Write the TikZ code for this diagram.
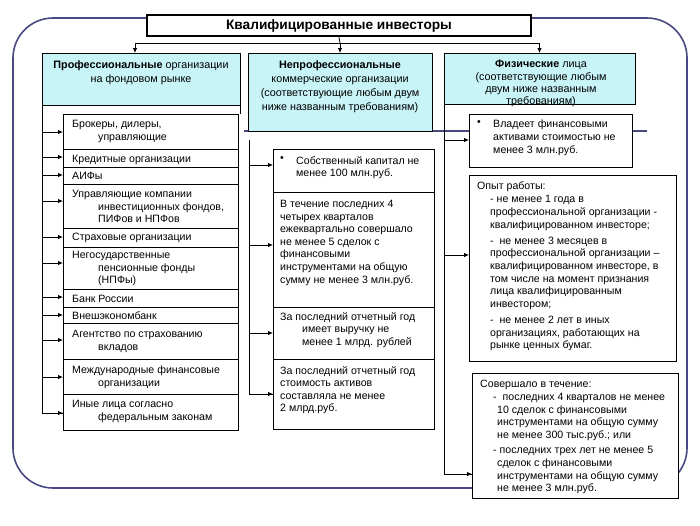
\documentclass[tikz,border=0pt]{standalone}
\usepackage{fontspec}
\setmainfont{Liberation Sans}
\usetikzlibrary{arrows.meta}
\definecolor{hdr}{RGB}{200,244,248}
\definecolor{framec}{RGB}{72,72,130}
\newcommand\myind{\hspace*{26pt}}
\newcommand\rind{\hspace*{13pt}}
\newcommand\sind{\hspace*{17pt}}
\begin{document}
\begin{tikzpicture}[x=1pt,y=-1pt,
  box/.style={draw=black, line width=0.9pt, fill=white, anchor=north west, inner sep=0, outer sep=0},
  hbox/.style={box, fill=hdr},
  txt/.style={anchor=north west, inner sep=0, align=left, font=\fontsize{10.6}{12.6}\selectfont},
  htxt/.style={anchor=north, inner sep=0, align=center, font=\fontsize{10.8}{14.3}\selectfont},
  arr/.style={-{Latex[length=5pt,width=4.5pt]}, line width=0.8pt},
  ln/.style={line width=0.8pt}]
\useasboundingbox[fill=white] (0,0) rectangle (700,525);
% outer frame
\draw[framec, line width=1.6pt, rounded corners=40pt] (13,18) rectangle (687,488);
\draw[framec, line width=1.8pt] (244,131) -- (647,131);
% title
\node[draw, line width=2pt, fill=white, minimum width=384pt, minimum height=21pt, anchor=north west, inner sep=0, font=\bfseries\fontsize{13.7}{15}\selectfont] (title) at (146,14) {Квалифицированные инвесторы};
% headers
\node[hbox, minimum width=198pt, minimum height=52pt] (lh) at (42,53) {};
\node[hbox, minimum width=184pt, minimum height=78pt] (mh) at (248,53) {};
\node[hbox, minimum width=191pt, minimum height=51pt] (rh) at (444,53) {};
\node[htxt] (lht) at (141,60) {\textbf{Профессиональные} организации\\на фондовом рынке};
\node[htxt] (mht) at (340,60) {\textbf{Непрофессиональные}\\коммерческие организации\\(соответствующие любым двум\\ниже названным требованиям)};
\node[htxt, font=\fontsize{10.8}{12.4}\selectfont] (rht) at (541,60) {\textbf{Физические} лица\\(соответствующие любым\\двум ниже названным\\требованиям)};
% top connectors
\coordinate (tj) at (340,43);
\draw[ln] (title.south) -- (tj);
\draw[ln] ([xshift=-6pt]lh.north |- tj) -- (rh.north |- tj);
\draw[arr] ([xshift=-6pt]lh.north |- tj) -- ([xshift=-6pt]lh.north);
\draw[arr] (tj) -- (mh.north);
\draw[arr] (rh.north |- tj) -- (rh.north);
\draw[ln] (lh.south east) -- (240,114);
% left list
\node[box, minimum width=175pt, minimum height=35pt] (l1) at (63,114) {};
\node[box, minimum width=175pt, minimum height=18pt] (l2) at (63,149) {};
\node[box, minimum width=175pt, minimum height=17pt] (l3) at (63,167) {};
\node[box, minimum width=175pt, minimum height=44pt] (l4) at (63,184) {};
\node[box, minimum width=175pt, minimum height=19pt] (l5) at (63,228) {};
\node[box, minimum width=175pt, minimum height=42pt] (l6) at (63,247) {};
\node[box, minimum width=175pt, minimum height=18pt] (l7) at (63,289) {};
\node[box, minimum width=175pt, minimum height=16pt] (l8) at (63,307) {};
\node[box, minimum width=175pt, minimum height=36pt] (l9) at (63,323) {};
\node[box, minimum width=175pt, minimum height=35pt] (l10) at (63,359) {};
\node[box, minimum width=175pt, minimum height=36pt] (l11) at (63,394) {};
\node[txt] (t1) at (72,120) {Брокеры, дилеры,\\\myind управляющие};
\node[txt] (t2) at (72,155) {Кредитные организации};
\node[txt] (t3) at (72,172) {АИФы};
\node[txt] (t4) at (72,190) {Управляющие компании\\\myind инвестиционных фондов,\\\myind ПИФов и НПФов};
\node[txt] (t5) at (72,233) {Страховые организации};
\node[txt] (t6) at (72,251) {Негосударственные\\\myind пенсионные фонды\\\myind (НПФы)};
\node[txt] (t7) at (72,295) {Банк России};
\node[txt] (t8) at (72,312) {Внешэкономбанк};
\node[txt] (t9) at (72,330) {Агентство по страхованию\\\myind вкладов};
\node[txt] (t10) at (72,366) {Международные финансовые\\\myind организации};
\node[txt] (t11) at (72,400) {Иные лица согласно\\\myind федеральным законам};
\draw[ln] (lh.south west) -- (lh.south west |- 0,413) -- (l11.west |- 0,413);
\foreach \n/\yy in {l1/132,l2/157,l3/175,l4/201,l5/237,l6/263,l7/297,l8/315,l9/340,l10/377,l11/413}
  \draw[arr] (lh.south west |- 0,\yy) -- (\n.west |- 0,\yy);
% middle list
\node[box, minimum width=161pt, minimum height=43pt] (m1) at (273,149) {};
\node[box, minimum width=161pt, minimum height=115pt] (m2) at (273,192) {};
\node[box, minimum width=161pt, minimum height=52pt] (m3) at (273,307) {};
\node[box, minimum width=161pt, minimum height=70pt] (m4) at (273,359) {};
\node[txt] (mb1) at (280,156) {•};
\node[txt] (mt1) at (296,156) {Собственный капитал не\\менее 100 млн.руб.};
\node[txt] (mt2) at (280,200) {В течение последних 4\\четырех кварталов\\ежеквартально совершало\\не менее 5 сделок с\\финансовыми\\инструментами на общую\\сумму не менее 3 млн.руб.};
\node[txt] (mt3) at (280,312) {За последний отчетный год\\\hspace*{22pt}имеет выручку не\\\hspace*{22pt}менее 1 млрд. рублей};
\node[txt] (mt4) at (280,366) {За последний отчетный год\\стоимость активов\\составляла не менее\\2 млрд.руб.};
\coordinate (mtop) at (249,140);
\draw[ln] (mtop) -- (mtop |- 0,394) -- (m4.west |- 0,394);
\foreach \n/\yy in {m1/165,m2/245,m3/333,m4/394}
  \draw[arr] (mtop |- 0,\yy) -- (\n.west |- 0,\yy);
% right list
\node[box, minimum width=163pt, minimum height=53pt] (r1) at (469,114) {};
\node[box, minimum width=207pt, minimum height=186pt] (r2) at (469,175) {};
\node[box, minimum width=206pt, minimum height=125pt] (r3) at (472,373) {};
\node[txt] (rb1) at (477,120) {•};
\node[txt, font=\fontsize{10.6}{13}\selectfont] (rt1) at (493,120) {Владеет финансовыми\\активами стоимостью не\\менее 3 млн.руб.};
\node[txt, font=\fontsize{10.6}{12.7}\selectfont] (rt2) at (477,182) {Опыт работы:\\
\rind - не менее 1 года в\\\rind профессиональной организации -\\\rind квалифицированном инвесторе;\\[3.3pt]
\rind -\ \ не менее 3 месяцев в\\\rind профессиональной организации –\\\rind квалифицированном инвесторе, в\\\rind том числе на момент признания\\\rind лица квалифицированным\\\rind инвестором;\\[3.3pt]
\rind -\ \ не менее 2 лет в иных\\\rind организациях, работающих на\\\rind рынке ценных бумаг.};
\node[txt, font=\fontsize{10.6}{12.7}\selectfont] (rt3) at (480,380) {Совершало в течение:\\
\rind -\ \ последних 4 кварталов не менее\\\sind 10 сделок с финансовыми\\\sind инструментами на общую сумму\\\sind не менее 300 тыс.руб.; или\\[2.5pt]
\rind - последних трех лет не менее 5\\\sind сделок с финансовыми\\\sind инструментами на общую сумму\\\sind не менее 3 млн.руб.};
\draw[ln] (rh.south west) -- (rh.south west |- 0,474) -- (r3.west |- 0,474);
\foreach \n/\yy in {r1/140,r2/255,r3/474}
  \draw[arr] (rh.south west |- 0,\yy) -- (\n.west |- 0,\yy);
\end{tikzpicture}
\end{document}
